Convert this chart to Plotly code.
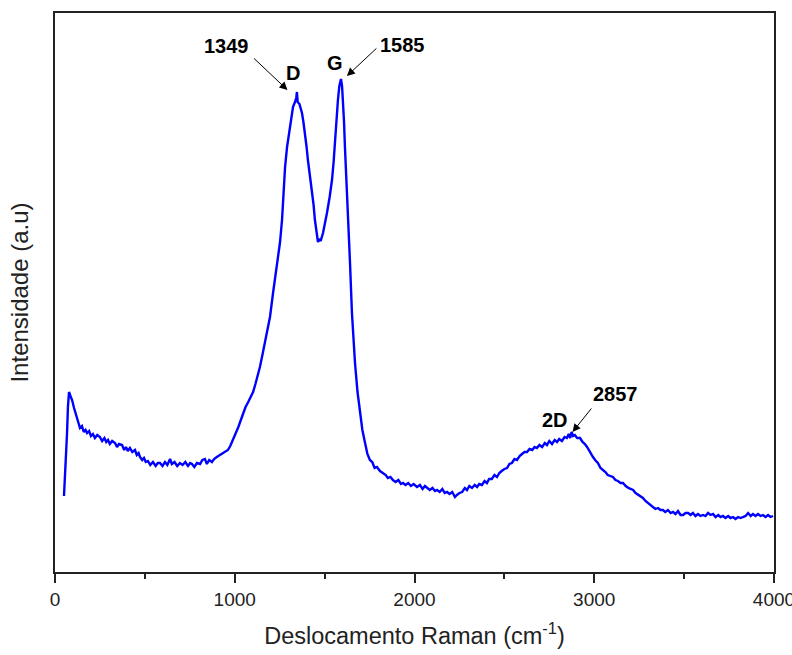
import plotly.graph_objects as go

# Raman shift (cm^-1) and intensity (a.u.)
shift = [50, 60, 67, 72, 78, 86, 95, 106, 117, 128, 139, 150, 160, 170, 178, 190, 200, 211, 222, 235,
         250, 262, 275, 285, 295, 305, 318, 334, 345, 356, 373, 385, 395, 405, 417, 430, 445, 455, 465, 473,
         485, 495, 505, 517, 530, 545, 560, 572, 584, 598, 612, 625, 640, 650, 665, 680, 695, 710, 725, 740,
         752, 762, 775, 790, 807, 820, 834, 845, 858, 873, 885, 900, 918, 935, 950, 962, 975, 990, 1005, 1020,
         1030, 1046, 1060, 1075, 1090, 1102, 1115, 1128, 1140, 1155, 1165, 1179, 1196, 1213, 1226, 1241, 1252, 1263, 1268, 1280,
         1291, 1300, 1307, 1316, 1324, 1335, 1342, 1346, 1350, 1360, 1374, 1382, 1391, 1399, 1407, 1418, 1430, 1438, 1446, 1455,
         1463, 1470, 1478, 1491, 1502, 1513, 1528, 1541, 1550, 1558, 1566, 1574, 1582, 1591, 1597, 1602, 1608, 1613, 1622, 1630,
         1641, 1652, 1660, 1669, 1683, 1697, 1710, 1725, 1738, 1752, 1765, 1778, 1791, 1808, 1825, 1840, 1852, 1866, 1880, 1895,
         1910, 1925, 1936, 1950, 1965, 1980, 1995, 2014, 2030, 2045, 2058, 2070, 2085, 2100, 2114, 2125, 2140, 2155, 2168, 2181,
         2195, 2210, 2225, 2236, 2250, 2265, 2280, 2292, 2305, 2320, 2335, 2348, 2360, 2375, 2390, 2403, 2415, 2430, 2445, 2459,
         2472, 2485, 2500, 2515, 2528, 2542, 2556, 2570, 2585, 2598, 2612, 2626, 2640, 2655, 2668, 2681, 2695, 2710, 2725, 2737,
         2750, 2765, 2780, 2793, 2805, 2820, 2835, 2848, 2858, 2866, 2874, 2882, 2892, 2905, 2921, 2935, 2948, 2960, 2972, 2983,
         2993, 3005, 3020, 3035, 3049, 3062, 3075, 3090, 3104, 3118, 3132, 3146, 3160, 3175, 3190, 3205, 3216, 3230, 3245, 3258,
         3271, 3285, 3300, 3313, 3327, 3340, 3355, 3368, 3382, 3395, 3410, 3425, 3438, 3452, 3466, 3480, 3494, 3508, 3522, 3536,
         3549, 3563, 3577, 3591, 3605, 3619, 3633, 3647, 3661, 3675, 3690, 3703, 3716, 3730, 3745, 3758, 3772, 3786, 3800, 3814,
         3827, 3842, 3856, 3870, 3883, 3897, 3911, 3925, 3939, 3953, 3967, 3980, 3995]
intensity = [76, 110, 139, 165, 180, 176, 172, 164, 157, 150, 144, 146, 140, 142, 139, 141, 136, 138, 134, 137,
             135, 131, 134, 130, 132, 128, 131, 129, 125, 128, 127, 122, 125, 121, 124, 120, 122, 117, 119, 115,
             112, 114, 110, 111, 107, 110, 106, 109, 109, 106, 110, 107, 113, 108, 110, 106, 109, 107, 110, 106,
             109, 108, 105, 109, 108, 112, 113, 108, 112, 110, 113, 115, 117, 119, 121, 122, 126, 132, 138, 145,
             150, 159, 165, 170, 176, 180, 188, 196, 205, 218, 228, 239, 255, 279, 295, 312, 330, 352, 372, 405,
             425, 436, 442, 455, 465, 470, 474, 480, 470, 468, 459, 450, 439, 426, 412, 398, 382, 368, 352, 340,
             330, 333, 331, 339, 348, 359, 375, 392, 410, 432, 452, 472, 486, 493, 486, 472, 450, 425, 392, 359,
             310, 259, 232, 209, 180, 159, 142, 129, 118, 112, 110, 104, 105, 101, 99, 97, 94, 95, 92, 90,
             92, 88, 89, 87, 89, 86, 88, 85, 87, 83, 86, 84, 82, 84, 81, 82, 80, 83, 79, 80,
             78, 80, 75, 77, 79, 80, 84, 82, 86, 84, 87, 85, 88, 87, 91, 89, 93, 93, 97, 95,
             99, 101, 103, 104, 108, 109, 113, 112, 116, 118, 120, 120, 123, 122, 125, 124, 127, 125, 129, 127,
             131, 128, 132, 130, 133, 131, 135, 134, 138, 134, 140, 136, 137, 134, 134, 130, 128, 125, 121, 118,
             115, 112, 109, 104, 102, 100, 97, 96, 95, 92, 91, 89, 89, 86, 84, 83, 82, 79, 77, 76,
             74, 71, 69, 67, 65, 63, 64, 62, 62, 60, 62, 59, 60, 58, 61, 57, 57, 59, 59, 57,
             59, 56, 58, 56, 57, 56, 59, 57, 58, 55, 57, 55, 56, 54, 56, 54, 55, 53, 55, 54,
             55, 56, 59, 56, 58, 56, 58, 56, 57, 55, 57, 55, 56]

# Peak annotations
peak_names = ["D", "G", "2D"]
peak_shifts = [1349, 1585, 2857]
peak_heights = [480, 493, 138]
peak_labels = ["1349", "1585", "2857"]

x_ticks = [0, 1000, 2000, 3000, 4000]

FONT = "Liberation Sans, Arial, sans-serif"
AX = "#222222"

fig = go.Figure()
fig.add_trace(go.Scatter(x=shift, y=intensity, mode="lines",
                         line=dict(color="#0000ff", width=2.4), showlegend=False))

# layout offsets (pixels) per peak: name label, value label, arrow tip, arrow tail
name_off = [(-4, 19), (-5, 16), (-14, 14)]
val_off = [(-71, 46), (63, 34), (47, 40)]
tip_off = [(-10, 2), (7, 3), (4, 2)]
tail_rel = [(-35, -33), (31, -29), (20, -25)]

ann = []
for i in range(3):
    ann.append(dict(x=peak_shifts[i], y=peak_heights[i], xref="x", yref="y",
                    text="<b>%s</b>" % peak_names[i], showarrow=False,
                    xshift=name_off[i][0], yshift=name_off[i][1],
                    font=dict(family=FONT, size=20, color="#000000")))
    ann.append(dict(x=peak_shifts[i], y=peak_heights[i], xref="x", yref="y",
                    text="<b>%s</b>" % peak_labels[i], showarrow=False,
                    xshift=val_off[i][0], yshift=val_off[i][1],
                    font=dict(family=FONT, size=20, color="#000000")))
    ann.append(dict(x=peak_shifts[i], y=peak_heights[i], xref="x", yref="y",
                    text="", showarrow=True, arrowhead=2, arrowsize=1.6, arrowwidth=1,
                    arrowcolor="#000000", standoff=0, startstandoff=0,
                    xshift=tip_off[i][0], yshift=tip_off[i][1],
                    ax=tail_rel[i][0], ay=tail_rel[i][1]))

fig.update_layout(
    width=792, height=655,
    margin=dict(l=55, r=18, t=13, b=83),
    paper_bgcolor="white", plot_bgcolor="white",
    annotations=ann,
    xaxis=dict(range=[0, 4000], tickvals=x_ticks, ticktext=[str(v) for v in x_ticks],
               ticklabeloverflow="allow", automargin=False,
               showline=True, linecolor=AX, linewidth=2, mirror=True,
               ticks="outside", ticklen=9, tickwidth=2, tickcolor=AX,
               minor=dict(dtick=500, ticks="outside", ticklen=5, tickwidth=2, tickcolor=AX, showgrid=False),
               showgrid=False, zeroline=False,
               tickfont=dict(family=FONT, size=19, color="#222222"),
               title=dict(text="Deslocamento Raman (cm<sup>-1</sup>)", standoff=19,
                          font=dict(family=FONT, size=23.5, color="#222222"))),
    yaxis=dict(range=[0, 559], showline=True, linecolor=AX, linewidth=2, mirror=True,
               automargin=False,
               ticks="", showticklabels=False, showgrid=False, zeroline=False,
               title=dict(text="Intensidade (a.u)", standoff=18,
                          font=dict(family=FONT, size=24, color="#222222"))),
)

fig.write_html("out.html")
